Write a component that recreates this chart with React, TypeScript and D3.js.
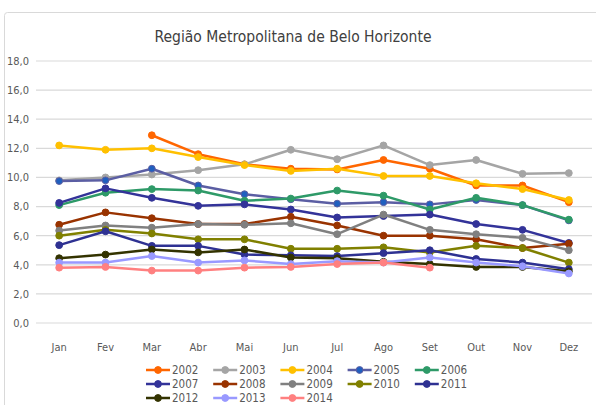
import React from 'react';
import * as d3 from 'd3';

const months = ['Jan', 'Fev', 'Mar', 'Abr', 'Mai', 'Jun', 'Jul', 'Ago', 'Set', 'Out', 'Nov', 'Dez'];
const yTicks = [0, 2, 4, 6, 8, 10, 12, 14, 16, 18];

const years = ['2002', '2003', '2004', '2005', '2006', '2007', '2008', '2009', '2010', '2011', '2012', '2013', '2014'];

const v2002 = [null, null, 12.9, 11.6, 10.9, 10.6, 10.55, 11.2, 10.6, 9.45, 9.45, 8.3];
const v2003 = [9.8, 10.0, 10.2, 10.5, 10.9, 11.9, 11.25, 12.2, 10.85, 11.2, 10.25, 10.3];
const v2004 = [12.2, 11.9, 12.0, 11.4, 10.85, 10.45, 10.6, 10.1, 10.1, 9.6, 9.2, 8.45];
const v2005 = [9.75, 9.8, 10.6, 9.45, 8.85, 8.5, 8.2, 8.3, 8.15, 8.45, 8.1, 7.05];
const v2006 = [8.1, 8.95, 9.2, 9.1, 8.4, 8.55, 9.1, 8.75, 7.8, 8.6, 8.1, 7.1];
const v2007 = [8.25, 9.25, 8.6, 8.05, 8.15, 7.8, 7.25, 7.35, 7.45, 6.8, 6.4, 5.5];
const v2008 = [6.75, 7.6, 7.2, 6.8, 6.8, 7.3, 6.7, 6.0, 6.0, 5.75, 5.15, 5.45];
const v2009 = [6.35, 6.7, 6.55, 6.8, 6.75, 6.85, 6.1, 7.45, 6.4, 6.1, 5.85, 5.0];
const v2010 = [6.0, 6.4, 6.15, 5.75, 5.75, 5.1, 5.1, 5.2, 4.85, 5.3, 5.15, 4.15];
const v2011 = [5.35, 6.3, 5.3, 5.3, 4.7, 4.65, 4.6, 4.8, 5.0, 4.4, 4.15, 3.7];
const v2012 = [4.45, 4.7, 5.05, 4.85, 5.05, 4.5, 4.45, 4.2, 4.05, 3.85, 3.85, 3.55];
const v2013 = [4.15, 4.15, 4.6, 4.15, 4.3, 4.05, 4.25, 4.15, 4.5, 4.15, 3.9, 3.4];
const v2014 = [3.8, 3.85, 3.6, 3.6, 3.8, 3.85, 4.05, 4.15, 3.8, null, null, null];

const seriesValues = [v2002, v2003, v2004, v2005, v2006, v2007, v2008, v2009, v2010, v2011, v2012, v2013, v2014];

const lineColors = ['#ff6600', '#a5a5a5', '#ffc000', '#5b5ea3', '#2e9a68', '#333399', '#993300', '#808080', '#808000', '#2e3192', '#333300', '#9999ff', '#ff8080'];
const markerColors = ['#ff6600', '#a5a5a5', '#ffc000', '#1f5fbf', '#2e9a68', '#333399', '#993300', '#808080', '#808000', '#2e3192', '#333300', '#9999ff', '#ff8080'];

const W = 596;
const H = 405;
const font = "'DejaVu Sans Condensed', 'Noto Sans', sans-serif";

export default function App() {
  const x = d3.scalePoint<string>().domain(months).range([36, 592]).padding(0.5);
  const y = d3.scaleLinear().domain([0, 18]).range([323, 61]);

  const line = d3.line<number | null>()
    .defined(d => d !== null)
    .x((_, i) => x(months[i])!)
    .y(d => y(d as number));

  return (
    <svg width={W} height={H} style={{ position: 'absolute', left: 0, top: 0, display: 'block' }}>
      <rect x={0} y={0} width={W} height={H} fill="#fff" />
      <rect x={4.5} y={12.5} width={W + 10} height={H + 10} rx={3} fill="#fff" stroke="#d9d9d9" strokeWidth={1} />

      <text x={293} y={42} textAnchor="middle" fontFamily={font} fontSize={15.5} fill="#404040">
        Região Metropolitana de Belo Horizonte
      </text>

      {yTicks.map(t => (
        <g key={t}>
          <line x1={36} x2={592} y1={y(t)} y2={y(t)} stroke="#d9d9d9" strokeWidth={1.2} />
          <text x={29} y={y(t)} dy="0.35em" textAnchor="end" fontFamily={font} fontSize={11} fill="#595959">
            {d3.format('.1f')(t).replace('.', ',')}
          </text>
        </g>
      ))}

      {months.map(m => (
        <text key={m} x={x(m)!} y={351} textAnchor="middle" fontFamily={font} fontSize={11} fill="#595959">
          {m}
        </text>
      ))}

      {seriesValues.map((vals, si) => (
        <g key={years[si]}>
          <path d={line(vals) || ''} fill="none" stroke={lineColors[si]} strokeWidth={2.5} strokeLinejoin="round" />
          {vals.map((v, i) => v === null ? null : (
            <circle key={i} cx={x(months[i])!} cy={y(v)} r={3.4} fill={markerColors[si]} stroke={lineColors[si]} strokeWidth={1} />
          ))}
        </g>
      ))}

      {years.map((yr, i) => {
        const col = i % 5;
        const row = Math.floor(i / 5);
        const lx = 146 + col * 67.2;
        const ly = 370 + row * 14;
        return (
          <g key={yr}>
            <line x1={lx} x2={lx + 24} y1={ly} y2={ly} stroke={lineColors[i]} strokeWidth={2.5} />
            <circle cx={lx + 12} cy={ly} r={3.4} fill={markerColors[i]} stroke={lineColors[i]} strokeWidth={1} />
            <text x={lx + 26} y={ly} dy="0.35em" fontFamily={font} fontSize={11.5} fill="#595959">{yr}</text>
          </g>
        );
      })}
    </svg>
  );
}
